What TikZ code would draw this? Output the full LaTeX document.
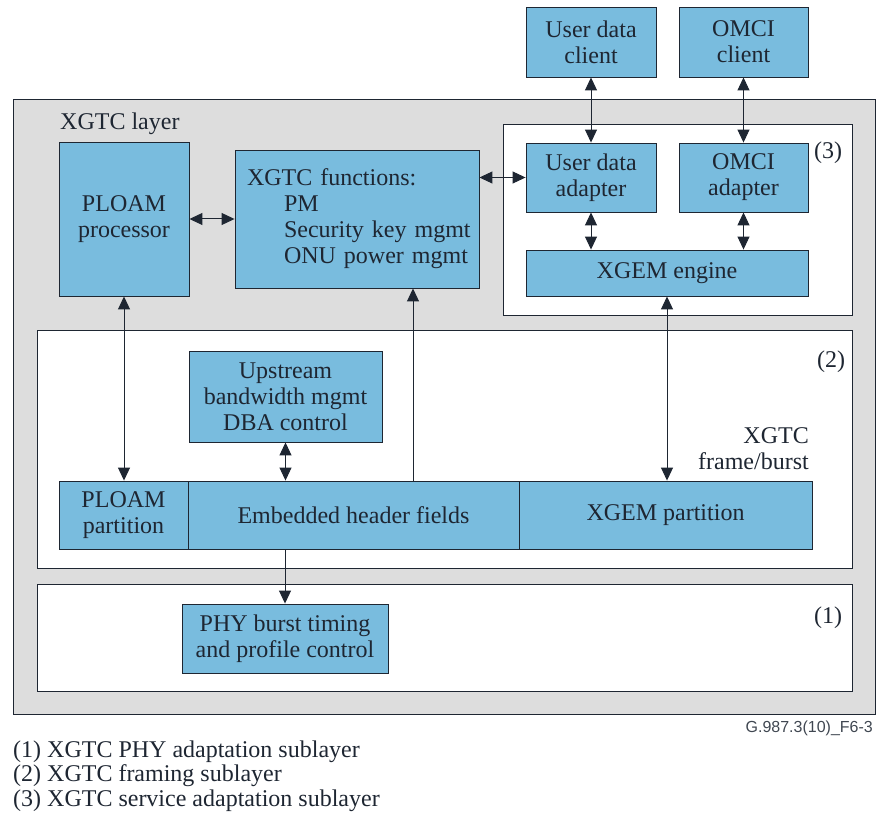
\documentclass[tikz,border=0pt]{standalone}
\usepackage{fontspec}
\setmainfont{Liberation Serif}
\newfontfamily\tagfont{Liberation Sans}
\usetikzlibrary{arrows.meta}
\definecolor{boxblue}{RGB}{121,188,222}
\definecolor{layergray}{RGB}{221,221,221}
\definecolor{inkdark}{RGB}{30,38,50}

\begin{document}
\begin{tikzpicture}[x=1pt,y=-1pt,
    blk/.style={draw=inkdark, line width=0.9pt, fill=boxblue, text=inkdark,
      align=center, inner sep=0pt, font=\fontsize{24}{26}\selectfont},
    sub/.style={draw=inkdark, line width=0.9pt, fill=white},
    lbl/.style={text=inkdark, inner sep=0pt, font=\fontsize{24}{26}\selectfont},
    link/.style={draw=inkdark, line width=1pt,
      {Triangle[length=13pt,width=12pt]}-{Triangle[length=13pt,width=12pt]}},
    fwd/.style={draw=inkdark, line width=1pt, -{Triangle[length=13pt,width=12pt]}}]
    \useasboundingbox (0,0) rectangle (878,813);
    % layers
    \draw[draw=inkdark, line width=0.9pt, fill=layergray] (13,99) rectangle (875,714);
    \draw[sub] (503,124) rectangle (852,315);
    \draw[sub] (37,330) rectangle (852,568);
    \draw[sub] (37,584) rectangle (852,691);
    \node[lbl, anchor=base west] (layer) at (60,130) {XGTC layer};
    \node[lbl] (s3) at (828,153) {(3)};
    \node[lbl] (s2) at (831,362) {(2)};
    \node[lbl] (s1) at (828,618) {(1)};
    \node[lbl, align=right, anchor=east] (burst) at (809,449) {XGTC\\frame/burst};
    % clients and adapters
    \node[blk, minimum width=130pt, minimum height=70pt] (udc) at (591,42) {User data\\client};
    \node[blk, minimum width=129pt, minimum height=70pt] (omcic) at (743.5,42) {OMCI\\client};
    \node[blk, minimum width=130pt, minimum height=69pt] (uda) at (591,177.5) {User data\\adapter};
    \node[blk, minimum width=129pt, minimum height=69pt] (omcia) at (743.5,177.5) {OMCI\\adapter};
    \node[blk, minimum width=282pt, minimum height=46pt] (engine) at (667,273) {XGEM engine};
    % processors
    \node[blk, minimum width=130pt, minimum height=154pt] (ploam) at (124,219) {PLOAM\\processor};
    \node[blk, minimum width=244pt, minimum height=138pt, align=left, inner xsep=8pt,
      text width=228pt] (func) at (357,219)
      {\hspace*{4pt}XGTC functions:\\\hspace*{41pt}PM\\\hspace*{41pt}Security key mgmt\\\hspace*{41pt}ONU power mgmt};
    \node[blk, minimum width=193pt, minimum height=91pt] (ups) at (285.5,396.5) {Upstream\\bandwidth mgmt\\DBA control};
    % frame/burst
    \node[blk, minimum width=129pt, minimum height=68pt] (ploampart) at (123.5,515) {PLOAM\\partition};
    \node[blk, minimum width=331pt, minimum height=68pt] (embedded) at (353.5,515) {Embedded header fields};
    \node[blk, minimum width=293pt, minimum height=68pt] (xgempart) at (665.5,515) {XGEM partition};
    \node[blk, minimum width=206pt, minimum height=69pt] (phy) at (285,638.5) {PHY burst timing\\and profile control};
    \coordinate (fx) at (413,0);
    % arrows
    \draw[link] (ploam) -- (func);
    \draw[link] (func.east |- uda) -- (uda.west);
    \draw[link] (udc) -- (uda);
    \draw[link] (omcic) -- (omcia);
    \draw[link] (uda.south) -- (uda.south |- engine.north);
    \draw[link] (omcia.south) -- (omcia.south |- engine.north);
    \draw[link] (engine.south) -- (engine.south |- xgempart.north);
    \draw[link] (ploam.south) -- (ploam.south |- ploampart.north);
    \draw[link] (ups.south) -- (ups.south |- embedded.north);
    \draw[fwd] (embedded.north -| fx) -- (func.south -| fx);
    \draw[fwd] (embedded.south -| phy) -- (phy.north);
    % notes
    \node[inner sep=0pt, anchor=east, text=inkdark!85, font=\tagfont\fontsize{16}{18}\selectfont] (tag) at (873,728) {G.987.3(10)\_F6-3};
    \node[lbl, align=left, anchor=base west, font=\fontsize{24}{24.5}\selectfont] (legend) at (13,806)
      {(1) XGTC PHY adaptation sublayer\\(2) XGTC framing sublayer\\(3) XGTC service adaptation sublayer};
\end{tikzpicture}
\end{document}
